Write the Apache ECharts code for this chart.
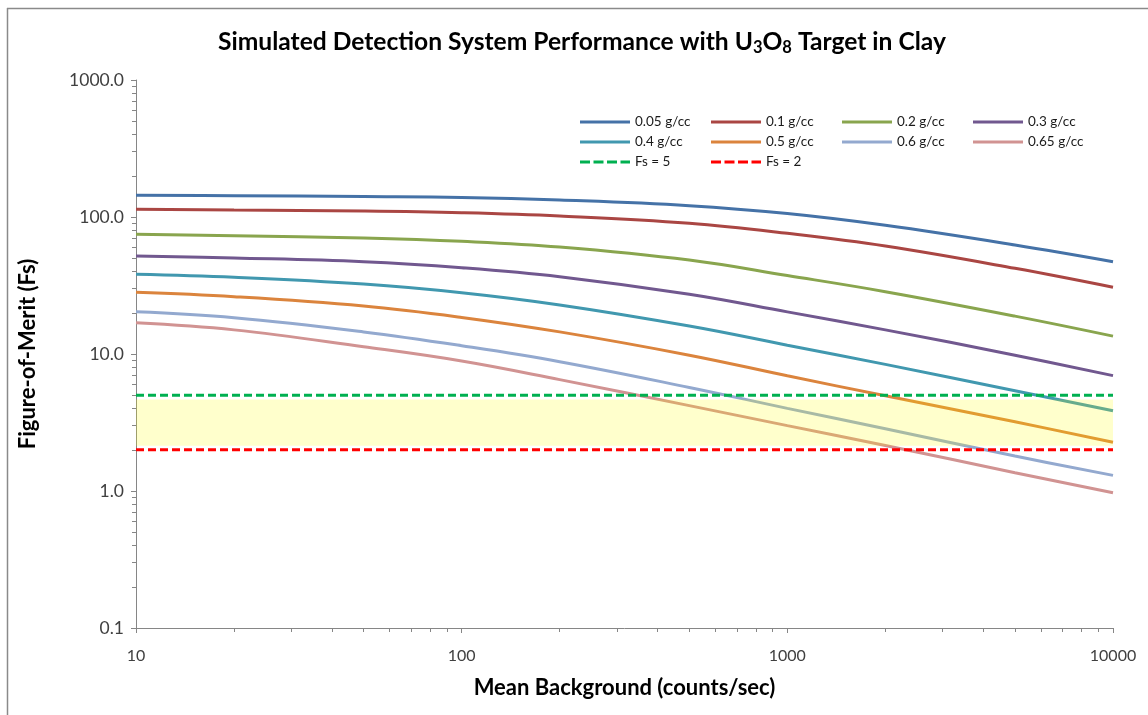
<!DOCTYPE html>
<html>
<head>
<meta charset="utf-8">
<script src="https://cdn.jsdelivr.net/npm/echarts@6/dist/echarts.min.js"></script>
<style>
  html, body { margin: 0; padding: 0; background: #ffffff; }
  #chart { width: 1148px; height: 715px; }
</style>
</head>
<body>
<div id="chart"></div>
<script>
// Mean background rate (counts/sec) at which each curve was sampled
const bgCounts = [10, 20, 50, 100, 200, 500, 1000, 2000, 5000, 10000];

// Figure-of-merit per target density
const fs005 = [144, 143, 141, 139, 133, 121, 106, 87, 62.5, 47.2];
const fs01  = [114, 112.5, 110.6, 107.5, 101.7, 90, 76, 61.4, 42.2, 30.7];
const fs02  = [74.8, 73.1, 70.3, 66.5, 60.4, 48.5, 37.4, 28.5, 18.9, 13.5];
const fs03  = [51.9, 50.2, 47.2, 42.7, 36.7, 27.3, 20.3, 15.0, 9.8, 6.95];
const fs04  = [38.2, 36.3, 32.4, 28, 22.8, 16.0, 11.6, 8.4, 5.4, 3.85];
const fs05  = [28.2, 26.2, 22.4, 18.5, 14.5, 9.8, 6.93, 4.95, 3.2, 2.27];
const fs06  = [20.3, 18.4, 14.5, 11.5, 8.79, 5.7, 4.01, 2.85, 1.8, 1.30];
const fs065 = [16.9, 15.0, 11.3, 8.89, 6.5, 4.2, 3.0, 2.15, 1.36, 0.97];

const densityNames = ['0.05 g/cc', '0.1 g/cc', '0.2 g/cc', '0.3 g/cc',
                      '0.4 g/cc', '0.5 g/cc', '0.6 g/cc', '0.65 g/cc'];
const densityValues = [fs005, fs01, fs02, fs03, fs04, fs05, fs06, fs065];

// Threshold lines and the shaded acceptance band between them
const thresholdNames = ['Fs = 5', 'Fs = 2'];
const thresholdValues = [5, 2];
const bandLow = 2.14;
const bandHigh = 4.66;

// Axis ranges
const xRange = [10, 10000];
const yRange = [0.1, 1000];

// Styling
const densityColors = ['#4572A7', '#AA4643', '#89A54E', '#71588F',
                       '#4198AF', '#DB843D', '#93A9CF', '#D19392'];
const thresholdColors = ['#00B050', '#FF0000'];
const FONT = 'Lato, "Open Sans", sans-serif';
const SOLID_ICON = 'path://M0,0H50V3H0Z';
const DASH_ICON = 'path://M0,0H10V3H0Z M13.5,0H23.5V3H13.5Z M27,0H37V3H27Z M40.5,0H50V3H40.5Z';

// Minor tick positions (2..9 within every decade)
function decadeSteps(lo, hi) {
  const out = [];
  for (let d = lo; d < hi; d *= 10) {
    for (let k = 2; k <= 9; k++) out.push(+(k * d).toPrecision(6));
  }
  return out;
}

const series = densityNames.map((name, i) => ({
  name: name,
  type: 'line',
  data: bgCounts.map((x, j) => [x, densityValues[i][j]]),
  smooth: 0.4,
  showSymbol: false,
  symbol: 'none',
  lineStyle: { width: 3, color: densityColors[i] },
  itemStyle: { color: densityColors[i], borderWidth: 0 },
  z: 3
}));

thresholdNames.forEach((name, i) => {
  series.push({
    name: name,
    type: 'line',
    data: [[xRange[0], thresholdValues[i]], [xRange[1], thresholdValues[i]]],
    showSymbol: false,
    symbol: 'none',
    lineStyle: { width: 3, color: thresholdColors[i], type: [8, 4] },
    itemStyle: { color: thresholdColors[i], borderWidth: 0 },
    z: 4
  });
});

// Translucent yellow band laid over the curves
series.push({
  type: 'custom',
  silent: true,
  z: 10,
  data: [[xRange[0], xRange[1], bandLow, bandHigh]],
  encode: { x: [0, 1], y: [2, 3] },
  renderItem: function (params, api) {
    const a = api.coord([api.value(0), api.value(3)]);
    const b = api.coord([api.value(1), api.value(2)]);
    return {
      type: 'rect',
      shape: { x: a[0], y: a[1], width: b[0] - a[0], height: b[1] - a[1] },
      style: { fill: 'rgba(255,255,0,0.2)' }
    };
  }
});

const legendColumns = [
  ['0.05 g/cc', '0.4 g/cc', 'Fs = 5'],
  ['0.1 g/cc', '0.5 g/cc', 'Fs = 2'],
  ['0.2 g/cc', '0.6 g/cc'],
  ['0.3 g/cc', '0.65 g/cc']
];
const legendLefts = [580, 711, 842, 973];

const legends = legendColumns.map((names, i) => ({
  data: names.map(n => ({ name: n, icon: thresholdNames.includes(n) ? DASH_ICON : SOLID_ICON })),
  orient: 'vertical',
  left: legendLefts[i],
  top: 115,
  itemWidth: 50,
  itemHeight: 14,
  itemGap: 6,
  padding: 0,
  selectedMode: false,
  itemStyle: { borderWidth: 0 },
  textStyle: { fontFamily: FONT, fontSize: 13.5, color: '#1a1a1a', lineHeight: 14, padding: [0, 0, 0, 0] }
}));

const axisLineStyle = { color: '#868686', width: 1 };

const option = {
  animation: false,
  backgroundColor: '#ffffff',
  title: {
    left: 218,
    top: 26,
    padding: 0,
    text: '{a|Simulated Detection System Performance with U}{s|3}{a|O}{s|8}{a| Target in Clay}',
    textStyle: {
      rich: {
        a: { fontFamily: FONT, fontSize: 24.6, fontWeight: 'bold', color: '#000', lineHeight: 32 },
        s: { fontFamily: FONT, fontSize: 16.5, fontWeight: 'bold', color: '#000', lineHeight: 20, padding: [12, 0, 0, 0] }
      }
    }
  },
  legend: legends,
  grid: { left: 136, right: 35, top: 80, bottom: 87, containLabel: false },
  xAxis: [{
    type: 'log',
    logBase: 10,
    min: xRange[0],
    max: xRange[1],
    name: 'Mean Background (counts/sec)',
    nameLocation: 'middle',
    nameGap: 49,
    nameTextStyle: { fontFamily: FONT, fontSize: 22, fontWeight: 'bold', color: '#000' },
    axisLine: { lineStyle: axisLineStyle },
    axisTick: { show: true, length: 5, lineStyle: axisLineStyle },
    axisLabel: {
      fontFamily: FONT, fontSize: 16, color: '#404040', margin: 20,
      formatter: v => String(Math.round(v))
    },
    splitLine: { show: false }
  }, {
    type: 'log',
    logBase: 10,
    min: xRange[0],
    max: xRange[1],
    position: 'bottom',
    axisLine: { show: false },
    axisTick: { show: true, length: 4, lineStyle: axisLineStyle, customValues: decadeSteps(10, 10000) },
    axisLabel: { show: false },
    splitLine: { show: false }
  }],
  yAxis: [{
    type: 'log',
    logBase: 10,
    min: yRange[0],
    max: yRange[1],
    name: 'Figure-of-Merit (Fs)',
    nameLocation: 'middle',
    nameGap: 97,
    nameTextStyle: { fontFamily: FONT, fontSize: 22, fontWeight: 'bold', color: '#000' },
    axisLine: { show: true, lineStyle: axisLineStyle },
    axisTick: { show: true, length: 5, lineStyle: axisLineStyle },
    axisLabel: {
      fontFamily: FONT, fontSize: 17.5, color: '#404040', margin: 12,
      formatter: v => Number(v).toFixed(1)
    },
    splitLine: { show: false }
  }, {
    type: 'log',
    logBase: 10,
    min: yRange[0],
    max: yRange[1],
    position: 'left',
    axisLine: { show: false },
    axisTick: { show: true, length: 4, lineStyle: axisLineStyle, customValues: decadeSteps(0.1, 1000) },
    axisLabel: { show: false },
    splitLine: { show: false }
  }],
  graphic: [
    { type: 'line', shape: { x1: 7.5, y1: 8, x2: 7.5, y2: 715 }, style: { stroke: '#8a8a8a', lineWidth: 1.5 } },
    { type: 'line', shape: { x1: 7, y1: 8.5, x2: 1148, y2: 8.5 }, style: { stroke: '#8a8a8a', lineWidth: 1.5 } }
  ],
  series: series
};

const chart = echarts.init(document.getElementById('chart'), null, { renderer: 'canvas' });
chart.setOption(option);
</script>
</body>
</html>
